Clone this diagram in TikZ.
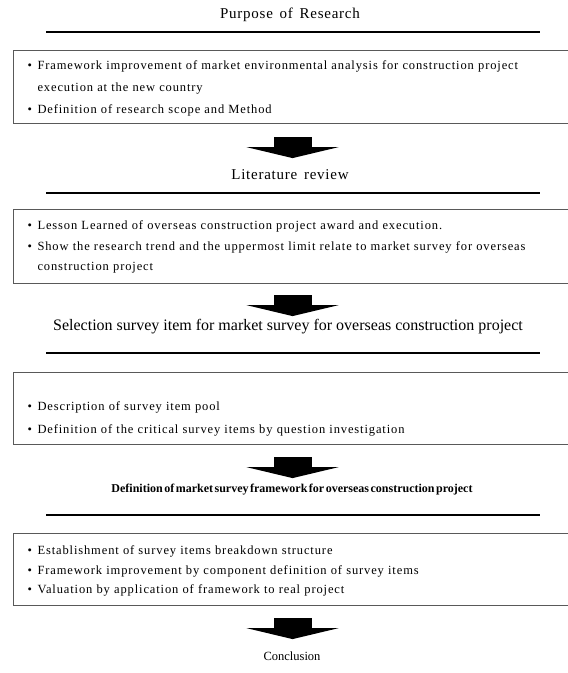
\documentclass[tikz,border=0pt]{standalone}
\usepackage{fontspec}
\setmainfont{Liberation Serif}
\newfontfamily\itemfont{Liberation Serif}[LetterSpace=7,WordSpace=2]
\newfontfamily\headfont{Liberation Serif}[LetterSpace=5,WordSpace=1.5]
\newfontfamily\tightfont{Liberation Serif}[WordSpace=0.5]
\usetikzlibrary{arrows.meta,positioning}

\newcommand{\bul}{\makebox[10pt][l]{\textbullet}}
\newcommand{\cont}{\hspace*{10pt}}

\tikzstyle{heading}=[inner sep=0pt, font=\headfont\fontsize{15}{17}\selectfont]
\tikzstyle{rulebar}=[fill=black, inner sep=0pt, minimum width=494pt, minimum height=1.5pt]
\tikzstyle{itembox}=[draw=black!65, line width=1.1pt, anchor=north west, inner xsep=14pt, inner ysep=0pt,
    text width=530pt, align=left, font=\itemfont\fontsize{12.5}{22}\selectfont]
\tikzstyle{blockarrow}=[line width=38pt, -{Triangle[width=92pt,length=11pt]}]

\begin{document}
\begin{tikzpicture}[x=1pt, y=1pt]
  \clip (0,0) rectangle (568,-673);

  \node [heading] (purpose) at (290,-15) {Purpose of Research};
  \node [rulebar] (rule1) at (293,-32) {};
  \node [itembox, minimum height=73pt] (box1) at (13,-50) {%
    \rule{0pt}{12pt}\bul Framework improvement of market environmental analysis for construction project\\
    \cont execution at the new country\\
    \bul Definition of research scope and Method};

  \node [heading] (review) at (290,-175) {Literature review};
  \node [rulebar] (rule2) at (293,-193) {};
  \node [itembox, minimum height=74pt, font=\itemfont\fontsize{12.5}{20.5}\selectfont] (box2) at (13,-209) {%
    \rule{0pt}{10pt}\bul Lesson Learned of overseas construction project award and execution.\\
    \bul Show the research trend and the uppermost limit relate to market survey for overseas\\
    \cont construction project};

  \node [heading, font=\fontsize{16}{18}\selectfont] (selection) at (288,-327)
    {Selection survey item for market survey for overseas construction project};
  \node [rulebar] (rule3) at (293,-353) {};
  \node [itembox, minimum height=72pt, font=\itemfont\fontsize{12.5}{23}\selectfont] (box3) at (13,-372) {%
    \rule{0pt}{29pt}\bul Description of survey item pool\\
    \bul Definition of the critical survey items by question investigation};

  \node [heading, font=\tightfont\bfseries\fontsize{12}{14}\selectfont] (framework) at (292,-490)
    {Definition of market survey framework for overseas construction project};
  \node [rulebar] (rule4) at (293,-515) {};
  \node [itembox, minimum height=72pt, font=\itemfont\fontsize{12.5}{19.5}\selectfont] (box4) at (13,-533) {%
    \rule{0pt}{12pt}\bul Establishment of survey items breakdown structure\\
    \bul Framework improvement by component definition of survey items\\
    \bul Valuation by application of framework to real project};

  \node [heading, font=\fontsize{12.5}{14}\selectfont] (conclusion) at (292,-656) {Conclusion};

  % flow arrows
  \draw [blockarrow] ([yshift=-13pt]box1.south) -- ([yshift=-34pt]box1.south);
  \draw [blockarrow] ([yshift=-11pt]box2.south) -- ([yshift=-32pt]box2.south);
  \draw [blockarrow] ([yshift=-12pt]box3.south) -- ([yshift=-33pt]box3.south);
  \draw [blockarrow] ([yshift=-12pt]box4.south) -- ([yshift=-33pt]box4.south);
\end{tikzpicture}
\end{document}
